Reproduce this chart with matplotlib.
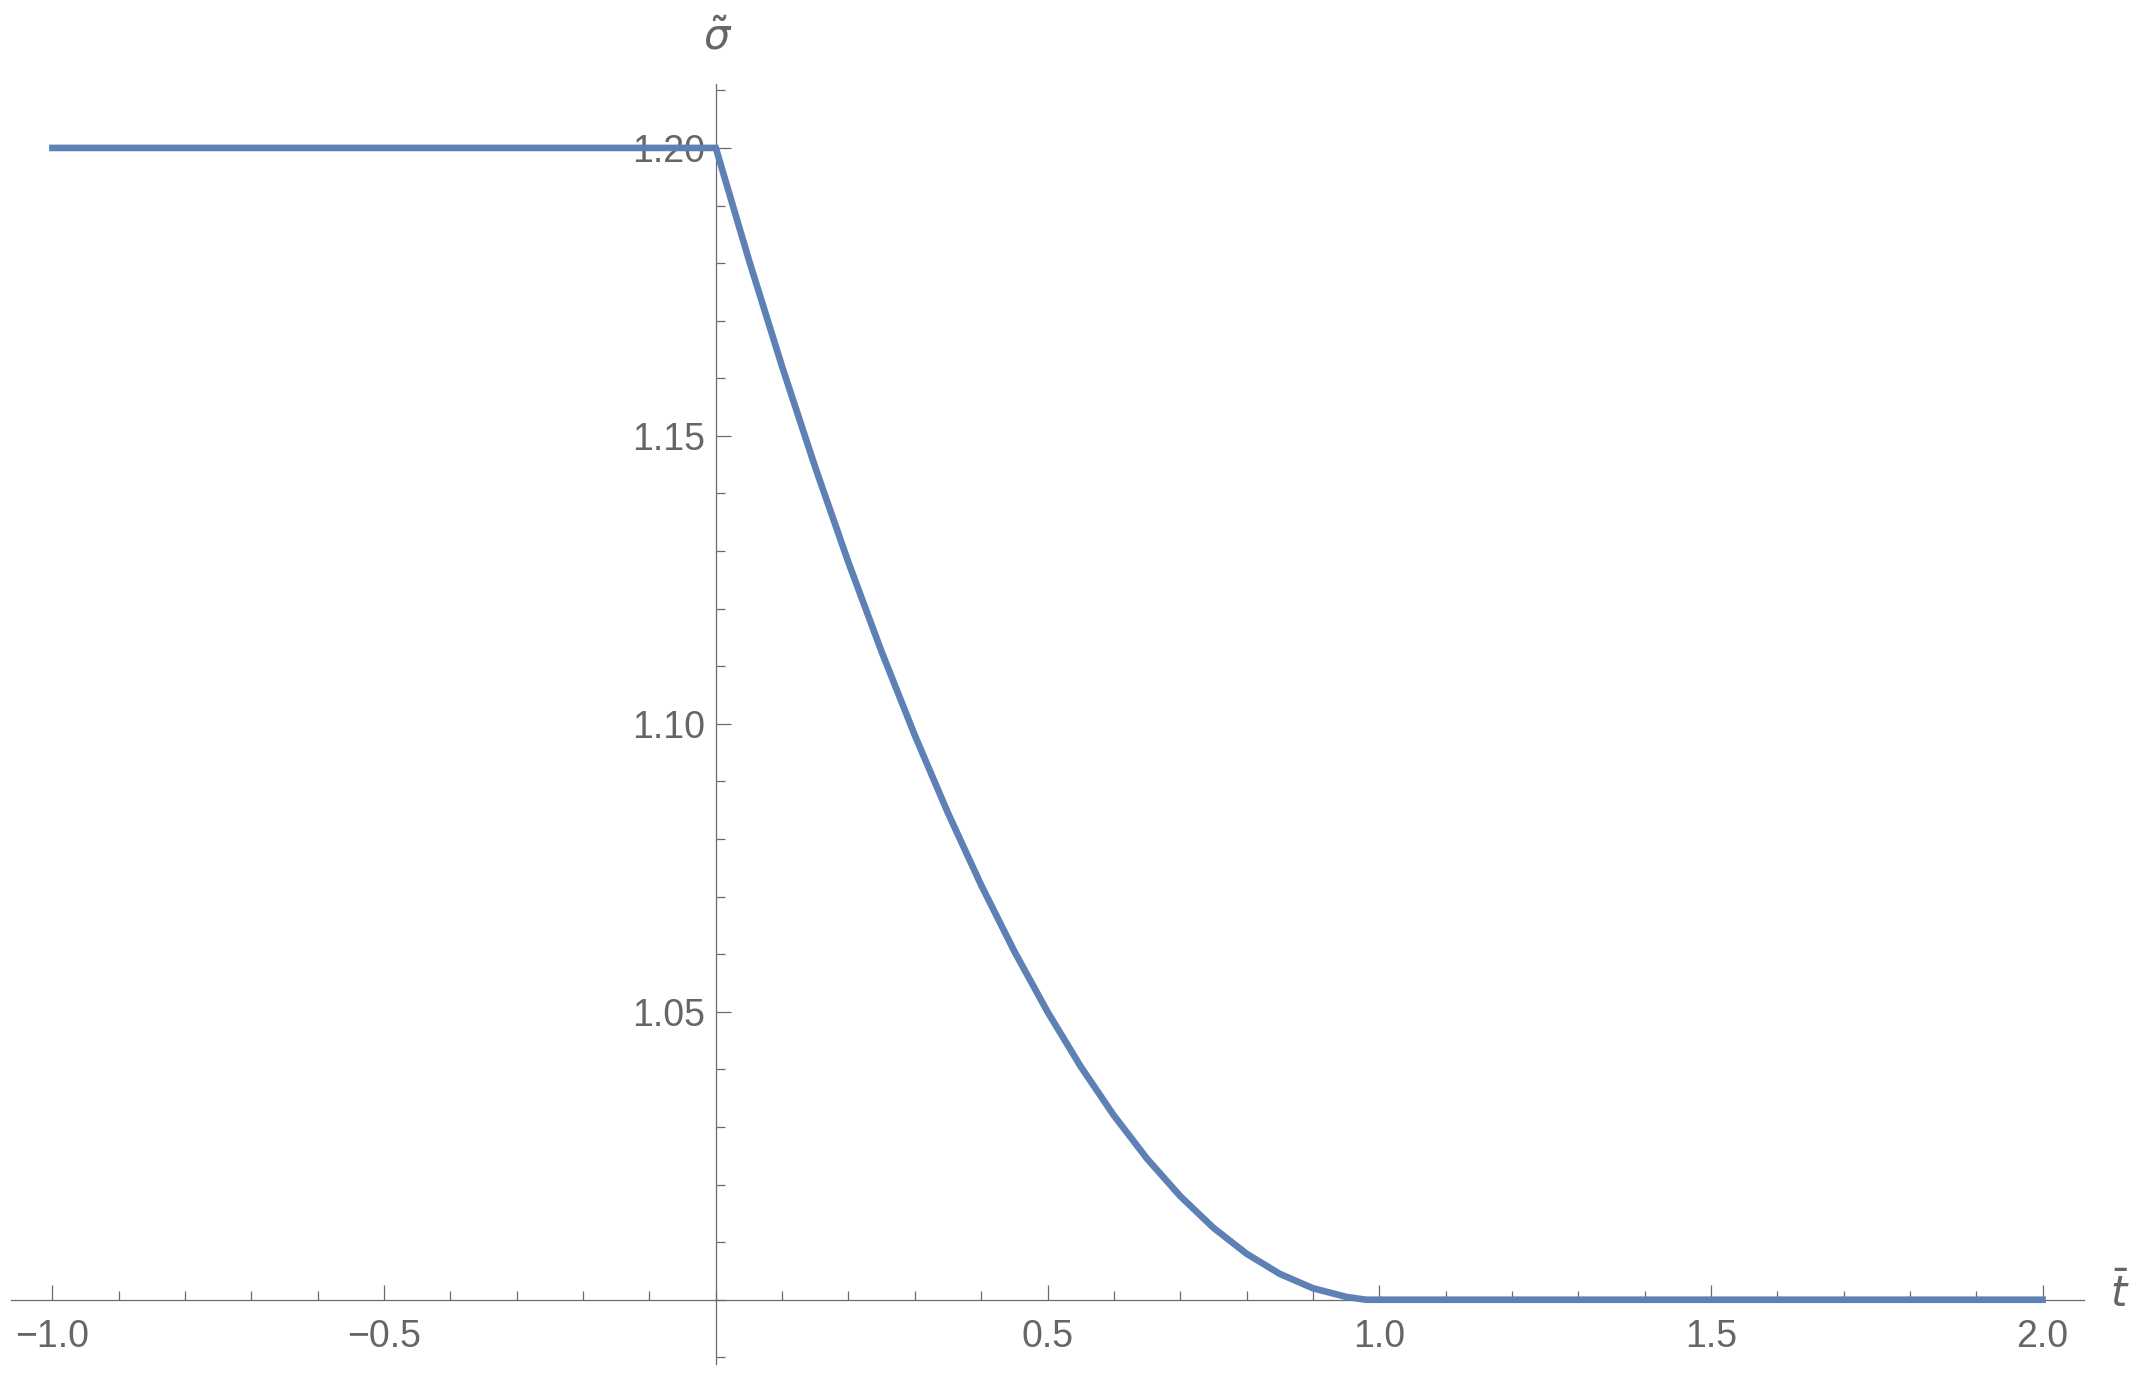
import numpy as np
import matplotlib.pyplot as plt
from matplotlib.ticker import MultipleLocator, FixedLocator, FixedFormatter

# values
t_vals = [-1.0, 0.0, 0.05, 0.10, 0.15, 0.20, 0.25, 0.30, 0.35, 0.40, 0.45,
          0.50, 0.55, 0.60, 0.65, 0.70, 0.75, 0.80, 0.85, 0.90, 0.95, 0.98, 2.0]
sigma_vals = [1.2, 1.2, 1.1805, 1.162, 1.1445, 1.128, 1.1125, 1.098, 1.0845,
              1.072, 1.0605, 1.050, 1.0405, 1.032, 1.0245, 1.018, 1.0125,
              1.008, 1.0045, 1.002, 1.0005, 1.0, 1.0]

x_ticks = [-1.0, -0.5, 0.5, 1.0, 1.5, 2.0]
x_labels = ['\u22121.0', '\u22120.5', '0.5', '1.0', '1.5', '2.0']
y_ticks = [1.05, 1.10, 1.15, 1.20]
y_labels = ['1.05', '1.10', '1.15', '1.20']

W, H = 2141, 1373
fig = plt.figure(figsize=(W / 100, H / 100), dpi=100)
left, right, top, bottom = 11, 2084, 84, 1364
ax = fig.add_axes([left / W, 1 - bottom / H, (right - left) / W, (bottom - top) / H])

axis_col = '#6a6a6a'
ax.plot(t_vals, sigma_vals, color='#5e81b5', lw=4.8, solid_joinstyle='miter',
        zorder=3, clip_on=False)

ax.set_xlim(-1.0625, 2.0625)
ax.set_ylim(0.98884, 1.2111)

for s in ['top', 'right']:
    ax.spines[s].set_visible(False)
ax.spines['left'].set_position(('data', 0))
ax.spines['bottom'].set_position(('data', 1.0))
for s in ['left', 'bottom']:
    ax.spines[s].set_color(axis_col)
    ax.spines[s].set_linewidth(0.9)

ax.xaxis.set_major_locator(FixedLocator(x_ticks))
ax.xaxis.set_major_formatter(FixedFormatter(x_labels))
ax.xaxis.set_minor_locator(MultipleLocator(0.1))
ax.yaxis.set_major_locator(FixedLocator(y_ticks))
ax.yaxis.set_major_formatter(FixedFormatter(y_labels))
ax.yaxis.set_minor_locator(MultipleLocator(0.01))

ax.tick_params(which='both', direction='in', color=axis_col, width=0.9,
               labelcolor='#666666', labelsize=27)
ax.tick_params(which='major', length=11)
ax.tick_params(which='minor', length=6.5)
ax.tick_params(axis='x', which='both', pad=14)
ax.tick_params(axis='y', which='both', pad=8)
for lab in ax.get_xticklabels() + ax.get_yticklabels():
    lab.set_fontfamily('Liberation Sans')

fig.text(718 / W, 1 - 37 / H, r'$\tilde{\sigma}$', fontsize=30, color='#666666',
         ha='center', va='center')
fig.text(2120 / W, 1 - 1295 / H, r'$\bar{t}$', fontsize=30, color='#666666',
         ha='center', va='center')

fig.savefig('out.png', dpi=100)
